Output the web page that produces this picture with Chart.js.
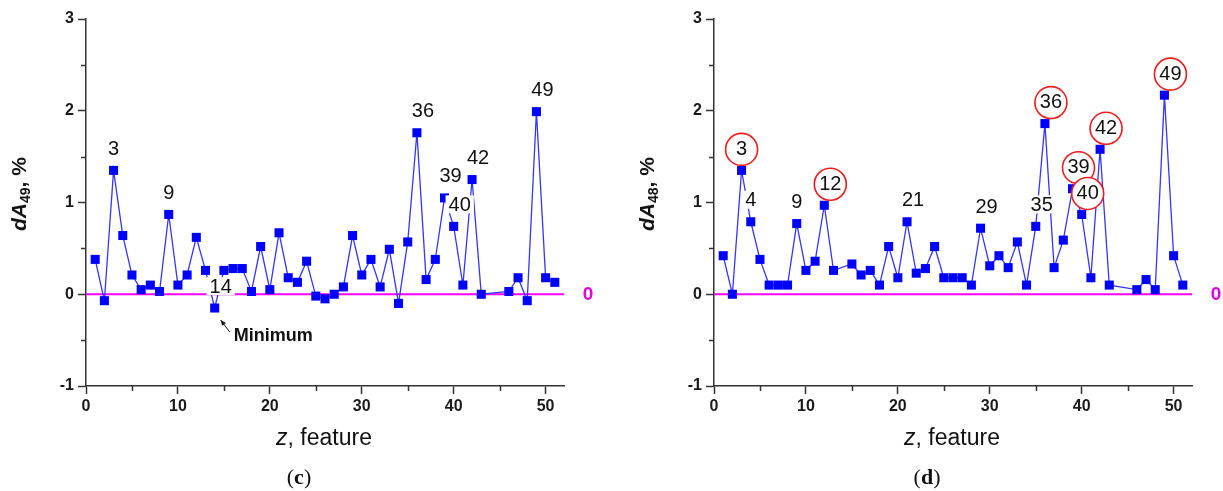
<!DOCTYPE html>
<html>
<head>
<meta charset="utf-8">
<script src="https://cdn.jsdelivr.net/npm/chart.js@4.4.1/dist/chart.umd.min.js"></script>
<style>
html,body{margin:0;padding:0;background:#fff;width:1223px;height:491px;overflow:hidden;font-family:"Liberation Sans",Arial,sans-serif;}
.panel{position:absolute;top:0;height:491px;}
.panel canvas{position:absolute;left:0;top:0;}
.ytitle{position:absolute;left:20px;top:194px;transform:translate(-50%,-50%) rotate(-90deg);font-weight:bold;font-size:21px;white-space:nowrap;color:#111;line-height:1;}
.ytitle sub{font-size:14px;vertical-align:-4px;}
.xtitle{position:absolute;left:324px;top:437px;transform:translate(-50%,-50%);font-size:23px;white-space:nowrap;color:#111;}
.cap{position:absolute;left:299px;top:477px;transform:translate(-50%,-50%);font-family:"Liberation Serif","Times New Roman",serif;font-size:22px;color:#111;white-space:nowrap;}
</style>
</head>
<body>
<div class="panel" id="pc" style="left:0;width:612px;">
  <canvas id="chartC" width="612" height="491"></canvas>
  <div class="ytitle"><i>dA</i><sub>49</sub>, %</div>
  <div class="xtitle"><i>z</i>, feature</div>
  <div class="cap">(<b>c</b>)</div>
</div>
<div class="panel" id="pd" style="left:628px;width:595px;">
  <canvas id="chartD" width="595" height="491"></canvas>
  <div class="ytitle"><i>dA</i><sub>48</sub>, %</div>
  <div class="xtitle"><i>z</i>, feature</div>
  <div class="cap">(<b>d</b>)</div>
</div>
<script>
// ---------- data ----------
const xTicks = [0, 10, 20, 30, 40, 50];
const yTicks = [-1, 0, 1, 2, 3];
const xMinorTicks = [5, 15, 25, 35, 45];
const yMinorTicks = [-0.5, 0.5, 1.5, 2.5];
const zeroLineX = [0, 52];
const zeroLineY = [0, 0];

// panel (c): dA49
const featuresC = [1,2,3,4,5,6,7,8,9,10,11,12,13,14,15,16,17,18,19,20,21,22,23,24,25,26,27,28,29,30,31,32,33,34,35,36,37,38,39,40,41,42,43,46,47,48,49,50,51];
const valuesC = [0.38,-0.07,1.35,0.64,0.21,0.05,0.10,0.03,0.87,0.10,0.21,0.62,0.26,-0.15,0.26,0.28,0.28,0.03,0.52,0.05,0.67,0.18,0.13,0.36,-0.02,-0.05,0.00,0.08,0.64,0.21,0.38,0.08,0.49,-0.10,0.57,1.76,0.16,0.38,1.05,0.74,0.10,1.25,0.00,0.03,0.18,-0.07,1.99,0.18,0.13];
const labelsC = [3, 9, 14, 36, 39, 40, 42, 49];
const circledC = [];
const minimumC = 14;

// panel (d): dA48
const featuresD = [1,2,3,4,5,6,7,8,9,10,11,12,13,15,16,17,18,19,20,21,22,23,24,25,26,27,28,29,30,31,32,33,34,35,36,37,38,39,40,41,42,43,46,47,48,49,50,51];
const valuesD = [0.42,0.00,1.35,0.79,0.38,0.10,0.10,0.10,0.77,0.26,0.36,0.97,0.26,0.33,0.21,0.26,0.10,0.52,0.18,0.79,0.23,0.28,0.52,0.18,0.18,0.18,0.10,0.72,0.31,0.42,0.29,0.57,0.10,0.74,1.86,0.29,0.59,1.15,0.87,0.18,1.58,0.10,0.05,0.16,0.05,2.17,0.42,0.10];
const labelsD = [3, 4, 9, 12, 21, 29, 35, 36, 39, 40, 42, 49];
const circledD = [3, 12, 36, 39, 40, 42, 49];

const FONT = '"Liberation Sans", Arial, sans-serif';

const annotPlugin = {
  id: 'annot',
  afterDatasetsDraw(chart, args, opts) {
    const ctx = chart.ctx;
    const xs = chart.scales.x, ys = chart.scales.y;
    const ca = chart.chartArea;
    ctx.save();
    // minor ticks
    ctx.strokeStyle = '#333';
    ctx.lineWidth = 1.5;
    ctx.beginPath();
    xMinorTicks.forEach(v => {
      const px = Math.round(xs.getPixelForValue(v)) + 0.5;
      ctx.moveTo(px, ca.bottom); ctx.lineTo(px, ca.bottom + 5);
    });
    yMinorTicks.forEach(v => {
      const py = Math.round(ys.getPixelForValue(v)) + 0.5;
      ctx.moveTo(ca.left, py); ctx.lineTo(ca.left - 5, py);
    });
    ctx.stroke();

    // point labels
    ctx.font = '20px ' + FONT;
    ctx.textAlign = 'center';
    ctx.textBaseline = 'middle';
    opts.labels.forEach(id => {
      const i = opts.xs.indexOf(id);
      if (i < 0) return;
      const px = xs.getPixelForValue(opts.xs[i]);
      const py = ys.getPixelForValue(opts.ys[i]);
      const dx = opts.centered.includes(id) ? 0 : 6;
      const cx = px + dx, cy = py - 22;
      const txt = String(id);
      const w = ctx.measureText(txt).width;
      if (opts.circled.includes(id)) {
        ctx.beginPath();
        ctx.arc(cx, cy + 1, 16, 0, Math.PI * 2);
        ctx.fillStyle = '#fff';
        ctx.fill();
        ctx.strokeStyle = '#ee1c1c';
        ctx.lineWidth = 1.6;
        ctx.stroke();
      } else {
        ctx.fillStyle = '#fff';
        ctx.fillRect(cx - w / 2 - 3, cy - 9, w + 6, 18);
      }
      ctx.fillStyle = '#111';
      ctx.fillText(txt, cx, cy + 1);
    });

    // magenta zero label
    ctx.font = 'bold 19px ' + FONT;
    ctx.fillStyle = '#e000e0';
    ctx.textAlign = 'center';
    ctx.fillText('0', ca.right + 24, ys.getPixelForValue(0) + 1);

    // minimum annotation
    if (opts.minimum != null) {
      const i = opts.xs.indexOf(opts.minimum);
      const px = xs.getPixelForValue(opts.xs[i]);
      const py = ys.getPixelForValue(opts.ys[i]);
      const tx = px + 6, ty = py + 12, sx = px + 15, sy = py + 24;
      ctx.strokeStyle = '#111';
      ctx.fillStyle = '#111';
      ctx.lineWidth = 1;
      ctx.beginPath(); ctx.moveTo(sx, sy); ctx.lineTo(tx, ty); ctx.stroke();
      const ang = Math.atan2(ty - sy, tx - sx);
      ctx.beginPath();
      ctx.moveTo(tx, ty);
      ctx.lineTo(tx - 6 * Math.cos(ang - 0.4), ty - 6 * Math.sin(ang - 0.4));
      ctx.lineTo(tx - 6 * Math.cos(ang + 0.4), ty - 6 * Math.sin(ang + 0.4));
      ctx.closePath(); ctx.fill();
      ctx.font = 'bold 18px ' + FONT;
      ctx.textAlign = 'left';
      ctx.textBaseline = 'middle';
      ctx.fillText('Minimum', px + 19, py + 28);
    }
    ctx.restore();
  }
};

function makePanel(canvasId, xsArr, ysArr, labels, circled, minimum) {
  const canvas = document.getElementById(canvasId);
  const W = canvas.width;
  const axisCommon = {
    type: 'linear',
    grid: { display: true, drawOnChartArea: false, drawTicks: true, tickLength: 8, tickColor: '#333', tickWidth: 1.5 },
    border: { display: true, color: '#333', width: 1.5 },
    ticks: { font: { family: FONT, size: 16, weight: 'bold' }, color: '#1a1a1a', autoSkip: false, maxRotation: 0 }
  };
  new Chart(canvas.getContext('2d'), {
    type: 'scatter',
    data: {
      datasets: [
        {
          data: zeroLineX.map((x, i) => ({ x: x, y: zeroLineY[i] })),
          showLine: true, borderColor: '#ff00ff', borderWidth: 2.2, pointRadius: 0, order: 2
        },
        {
          data: xsArr.map((x, i) => ({ x: x, y: ysArr[i] })),
          showLine: true, borderColor: '#3535ff', borderWidth: 1.3,
          backgroundColor: '#0000ff', pointBackgroundColor: '#0000ff',
          pointStyle: 'rect', pointRadius: 6.4, pointBorderWidth: 0, pointHoverRadius: 6.4,
          order: 1
        }
      ]
    },
    options: {
      animation: false, responsive: false, events: [],
      layout: { padding: { left: 0, right: W - 564, top: 19, bottom: 0 } },
      plugins: {
        legend: { display: false }, tooltip: { enabled: false },
        annot: { xs: xsArr, ys: ysArr, labels: labels, circled: circled, centered: [3, 4, 9], minimum: minimum }
      },
      scales: {
        x: Object.assign({}, axisCommon, {
          min: 0, max: 52,
          afterBuildTicks: s => { s.ticks = xTicks.map(v => ({ value: v })); },
          afterFit: s => { s.height = 105; },
          ticks: Object.assign({}, axisCommon.ticks, { padding: 3 })
        }),
        y: Object.assign({}, axisCommon, {
          min: -1, max: 3,
          afterBuildTicks: s => { s.ticks = yTicks.map(v => ({ value: v })); },
          afterFit: s => { s.width = 86; },
          ticks: Object.assign({}, axisCommon.ticks, { padding: 4 })
        })
      }
    },
    plugins: [annotPlugin]
  });
}

makePanel('chartC', featuresC, valuesC, labelsC, circledC, minimumC);
makePanel('chartD', featuresD, valuesD, labelsD, circledD, null);
</script>
</body>
</html>
